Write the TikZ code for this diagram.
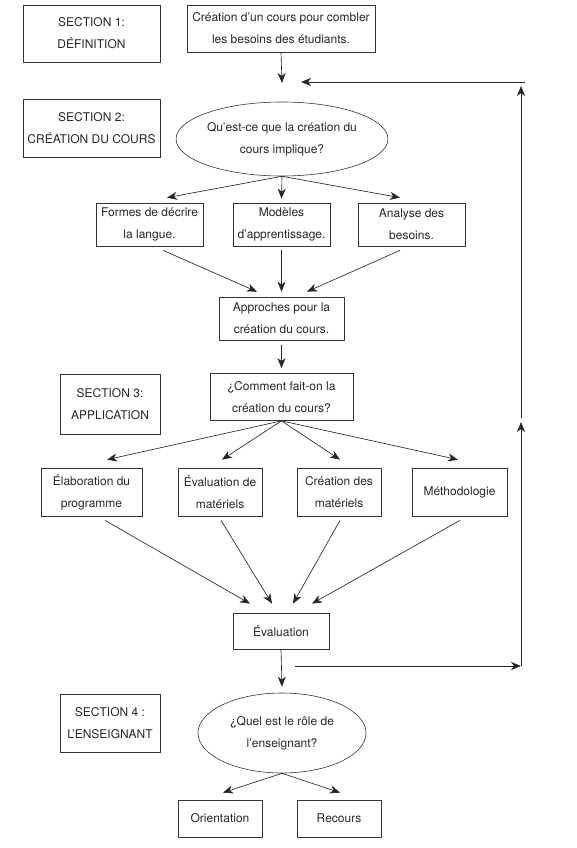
\documentclass[tikz,border=0pt]{standalone}
\usepackage{fontspec}
\setmainfont{TeX Gyre Heros}
\usetikzlibrary{arrows.meta,shapes.geometric}
\begin{document}
\begin{tikzpicture}[x=1pt,y=-1pt,
  every node/.style={font=\fontsize{12}{22}\selectfont, text=black!85, align=center, inner sep=0pt},
  box/.style={draw=black!80, line width=0.7pt, rectangle},
  oval/.style={draw=black!80, line width=0.6pt, ellipse},
  arr/.style={draw=black!85, line width=0.65pt, -{Stealth[length=10pt,width=8pt,inset=3pt]}},
]
\useasboundingbox (0,0) rectangle (577,848);
% Section labels
\node[box, minimum width=137pt, minimum height=57pt] (s1) at (91.5,33.5) {SECTION 1:\\DÉFINITION};
\node[box, minimum width=137pt, minimum height=58pt] (s2) at (91.5,128) {SECTION 2:\\CRÉATION DU COURS};
\node[box, minimum width=100pt, minimum height=60pt] (s3) at (110,404) {SECTION 3:\\APPLICATION};
\node[box, minimum width=100pt, minimum height=58pt] (s4) at (110,723) {SECTION 4 :\\L’ENSEIGNANT};
% Flow
\node[box, minimum width=188pt, minimum height=47pt] (c1) at (281,28.5) {Création d’un cours pour combler\\les besoins des étudiants.};
\node[oval, minimum width=168pt, minimum height=74pt] (e1) at (282,139) {Qu’est-ce que la création du\\cours implique?};
\node[box, minimum width=107pt, minimum height=43pt] (f1) at (149.5,224.5) {Formes de décrire\\la langue.};
\node[box, minimum width=97pt, minimum height=43pt] (m1) at (281.5,224.5) {Modèles\\d’apprentissage.};
\node[box, minimum width=107pt, minimum height=43pt] (a1) at (411.5,224.5) {Analyse des\\besoins.};
\node[box, minimum width=125pt, minimum height=43pt] (ap) at (281.5,318.5) {Approches pour la\\création du cours.};
\node[box, minimum width=143pt, minimum height=47pt] (co) at (281.5,397) {¿Comment fait-on la\\création du cours?};
\node[box, minimum width=101pt, minimum height=48pt] (el) at (91.5,492) {Élaboration du\\programme};
\node[box, minimum width=84pt, minimum height=48pt] (ev) at (220,492) {Évaluation de\\matériels};
\node[box, minimum width=84pt, minimum height=48pt] (cr) at (339,492) {Création des\\matériels};
\node[box, minimum width=95pt, minimum height=48pt] (me) at (459.5,492) {Méthodologie};
\node[box, minimum width=96pt, minimum height=36pt] (evl) at (281,631) {Évaluation};
\node[oval, minimum width=168pt, minimum height=80pt] (e2) at (282,733) {¿Quel est le rôle de\\l’enseignant?};
\node[box, minimum width=84pt, minimum height=37pt] (ori) at (220,818.5) {Orientation};
\node[box, minimum width=84pt, minimum height=37pt] (rec) at (339,818.5) {Recours};
% coordinates
\coordinate (join) at (282,83);
\coordinate (fbA) at (295,666);
\coordinate (fbB) at (521,666);
\coordinate (fbM) at (521,422);
\coordinate (fbN) at (521,418);
\coordinate (fbC) at (521,86);
\coordinate (fbD) at (525,82);
\coordinate (fbE) at (301,82);
% connectors
\draw[arr] (c1.south) -- (join);
\draw[arr] (e1.south) -- ([xshift=17.5pt,yshift=5pt]f1.north);
\draw[arr] (e1.south) -- ([yshift=4pt]m1.north);
\draw[arr] (e1.south) -- ([xshift=-11.5pt,yshift=5pt]a1.north);
\draw[arr] ([xshift=13.5pt,yshift=-4pt]f1.south) -- ([xshift=-24.5pt,yshift=5pt]ap.north);
\draw[arr] ([yshift=-4pt]m1.south) -- ([yshift=5pt]ap.north);
\draw[arr] ([xshift=-11.5pt,yshift=-4pt]a1.south) -- ([xshift=25.5pt,yshift=5pt]ap.north);
\draw[arr] ([yshift=-5pt]ap.south) -- ([yshift=5pt]co.north);
\draw[arr] (co.south) -- ([xshift=15.5pt,yshift=8pt]el.north);
\draw[arr] (co.south) -- ([xshift=2pt,yshift=8pt]ev.north);
\draw[arr] (co.south) -- ([xshift=1pt,yshift=8pt]cr.north);
\draw[arr] (co.south) -- ([xshift=-1.5pt,yshift=8pt]me.north);
\draw[arr] ([xshift=13.5pt,yshift=-4pt]el.south) -- ([xshift=-31pt,yshift=9pt]evl.north);
\draw[arr] ([xshift=1pt,yshift=-4pt]ev.south) -- ([xshift=-9pt,yshift=9pt]evl.north);
\draw[arr] ([xshift=1pt,yshift=-4pt]cr.south) -- ([xshift=12pt,yshift=9pt]evl.north);
\draw[arr] ([xshift=0.5pt,yshift=-4pt]me.south) -- ([xshift=31pt,yshift=9pt]evl.north);
\draw[arr] (evl.south) -- ([yshift=6pt]e2.north);
\draw[arr] (e2.south) -- ([xshift=3pt,yshift=7pt]ori.north);
\draw[arr] (e2.south) -- ([xshift=1pt,yshift=7pt]rec.north);
% feedback loop
\draw[arr] (fbA) -- (fbB);
\draw[arr] (fbB) -- (fbM);
\draw[arr] (fbN) -- (fbC);
\draw[arr] (fbD) -- (fbE);
\end{tikzpicture}
\end{document}
